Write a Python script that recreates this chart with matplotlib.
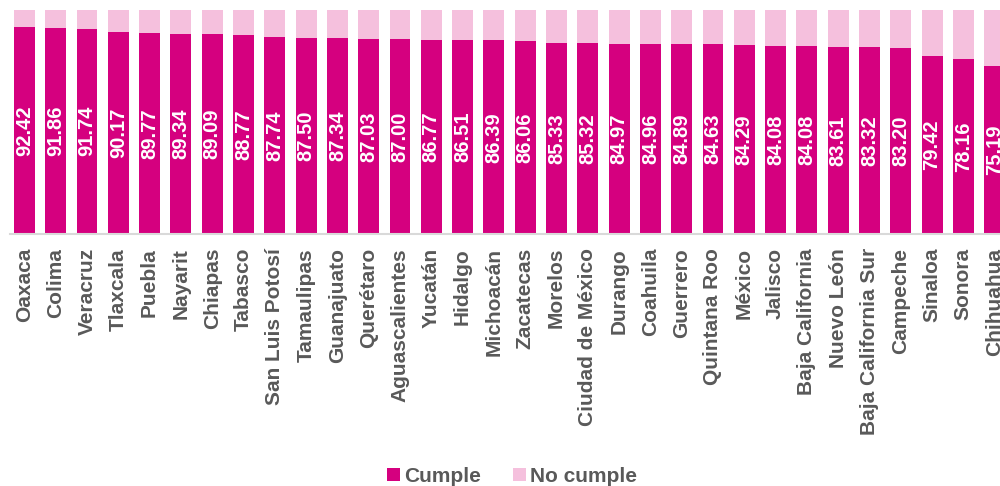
import numpy as np
import matplotlib
matplotlib.use("Agg")
import matplotlib.pyplot as plt

# === datos ===
estados = ["Oaxaca", "Colima", "Veracruz", "Tlaxcala", "Puebla", "Nayarit", "Chiapas",
           "Tabasco", "San Luis Potosí", "Tamaulipas", "Guanajuato", "Querétaro",
           "Aguascalientes", "Yucatán", "Hidalgo", "Michoacán", "Zacatecas", "Morelos",
           "Ciudad de México", "Durango", "Coahuila", "Guerrero", "Quintana Roo", "México",
           "Jalisco", "Baja California", "Nuevo León", "Baja California Sur", "Campeche",
           "Sinaloa", "Sonora", "Chihuahua"]
cumple = [92.42, 91.86, 91.74, 90.17, 89.77, 89.34, 89.09, 88.77, 87.74, 87.50, 87.34,
          87.03, 87.00, 86.77, 86.51, 86.39, 86.06, 85.33, 85.32, 84.97, 84.96, 84.89,
          84.63, 84.29, 84.08, 84.08, 83.61, 83.32, 83.20, 79.42, 78.16, 75.19]
no_cumple = [7.58, 8.14, 8.26, 9.83, 10.23, 10.66, 10.91, 11.23, 12.26, 12.50, 12.66,
             12.97, 13.00, 13.23, 13.49, 13.61, 13.94, 14.67, 14.68, 15.03, 15.04, 15.11,
             15.37, 15.71, 15.92, 15.92, 16.39, 16.68, 16.80, 20.58, 21.84, 24.81]

c_cumple = "#D5007F"
c_no = "#F5C0DD"
gris = "#595959"

plt.rcParams['font.family'] = ['Liberation Sans', 'DejaVu Sans']

fig = plt.figure(figsize=(10, 4.86), dpi=100)
# el eje se sale por la derecha, como en la imagen original recortada
ax = fig.add_axes([0.010, 0.5185, 1.0016, 0.4609])

x = np.arange(len(estados))
ax.bar(x, cumple, width=0.67, color=c_cumple, label="Cumple")
ax.bar(x, no_cumple, width=0.67, bottom=cumple, color=c_no, label="No cumple")

for xi, v in zip(x, cumple):
    ax.text(xi, v / 2, f"{v:.2f}", rotation=90, ha="center", va="center",
            color="white", fontsize=14.5, fontweight="bold")

ax.set_xlim(-0.46, 31.54)
ax.set_ylim(0, 100)
ax.set_xticks(x)
ax.set_xticklabels(estados, rotation=90, fontsize=15, fontweight="bold", color=gris)
ax.tick_params(axis="x", length=0, pad=10)
ax.set_yticks([])
for s in ["top", "right", "left"]:
    ax.spines[s].set_visible(False)
ax.spines["bottom"].set_color("#D9D9D9")
ax.spines["bottom"].set_linewidth(1.5)

leg = fig.legend(loc="center", bbox_to_anchor=(0.512, 0.02), ncol=2, frameon=False,
                 handlelength=0.65, handleheight=0.65, handletextpad=0.2, columnspacing=1.5,
                 prop={"size": 15, "weight": "bold"})
for t in leg.get_texts():
    t.set_color(gris)

fig.savefig("out.png", dpi=100)
